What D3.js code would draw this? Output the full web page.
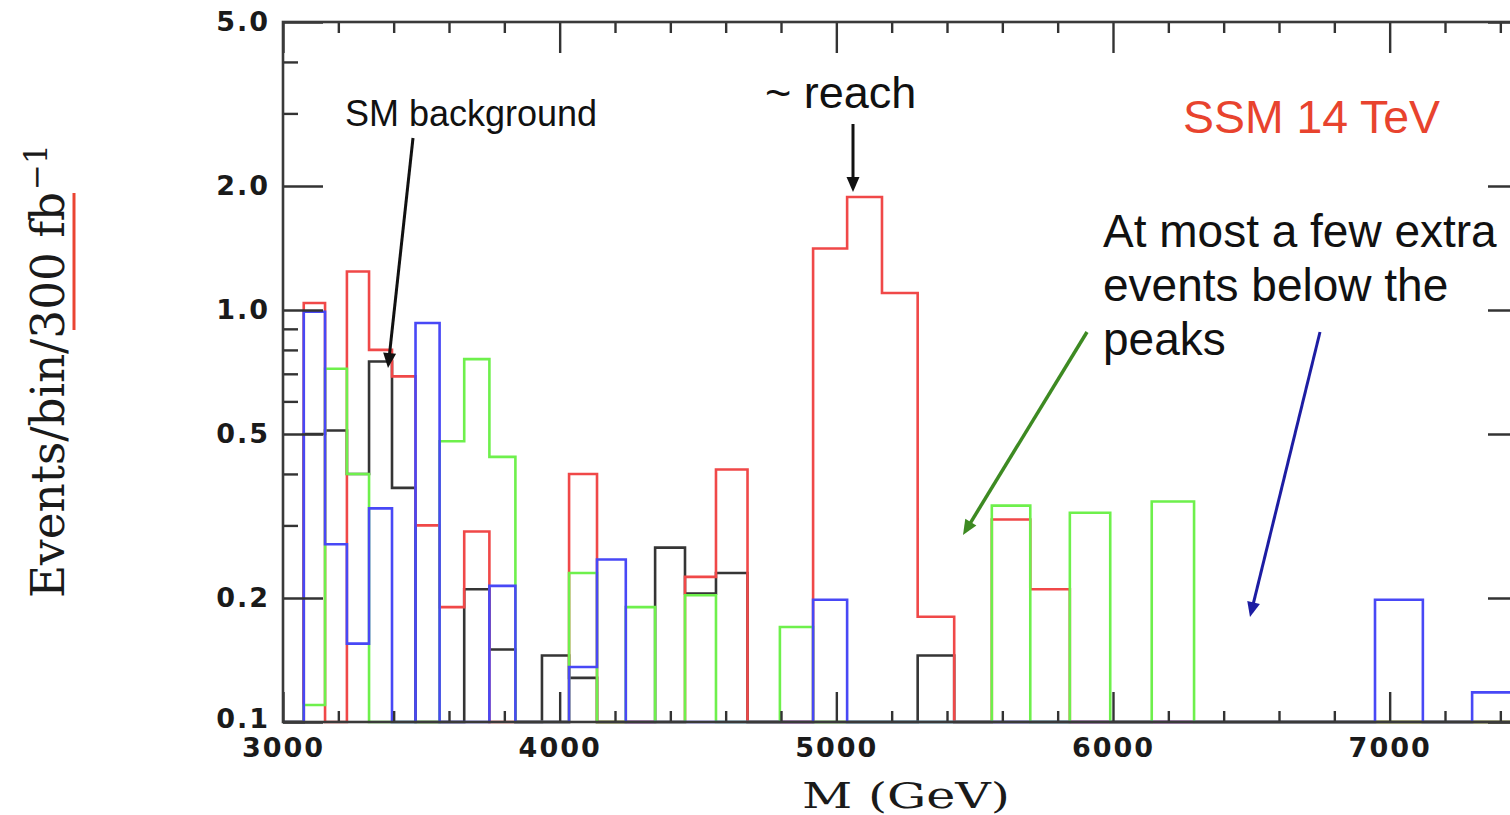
<!DOCTYPE html>
<html>
<head>
<meta charset="utf-8">
<script src="https://cdn.jsdelivr.net/npm/d3@7"></script>
<style>
  html, body { margin: 0; padding: 0; background: #ffffff; }
  svg { display: block; }
</style>
</head>
<body>
<svg id="chart" width="1510" height="815"></svg>
<script>
// Dilepton invariant-mass bins (GeV), about 2.5% wide each
const binEdges = [3000, 3075, 3152, 3231, 3311, 3394, 3479, 3566, 3655, 3746,
                  3840, 3936, 4034, 4135, 4239, 4345, 4453, 4565, 4679, 4796,
                  4916, 5039, 5165, 5294, 5426, 5562, 5701, 5844, 5990, 6140,
                  6293, 6451, 6612, 6777, 6947, 7120, 7298, 7481, 7668];

// Events per bin for 300 fb^-1 (0 = empty bin)
const smBackground = [0, 0.50, 0.51, 0.40, 0.75, 0.37, 0, 0, 0.21, 0.15,
                      0, 0.145, 0.128, 0, 0, 0.265, 0.205, 0.23, 0, 0,
                      0, 0, 0, 0.145, 0, 0, 0, 0, 0, 0,
                      0, 0, 0, 0, 0, 0, 0, 0];
const ssmRed = [0, 1.04, 0, 1.24, 0.80, 0.69, 0.30, 0.19, 0.29, 0,
                0, 0, 0.40, 0, 0, 0, 0.225, 0.41, 0, 0,
                1.41, 1.88, 1.10, 0.18, 0, 0.31, 0.21, 0, 0, 0,
                0, 0, 0, 0, 0, 0, 0, 0];
const ssmGreen = [0, 0.11, 0.72, 0.40, 0, 0, 0, 0.48, 0.76, 0.44,
                  0, 0, 0.23, 0, 0.19, 0, 0.203, 0, 0, 0.17,
                  0, 0, 0, 0, 0, 0.335, 0, 0.322, 0, 0.343,
                  0, 0, 0, 0, 0, 0, 0, 0];
const ssmBlue = [0, 0.99, 0.27, 0.155, 0.33, 0, 0.93, 0, 0, 0.214,
                 0, 0, 0.136, 0.248, 0, 0, 0, 0, 0, 0,
                 0.198, 0, 0, 0, 0, 0, 0, 0, 0, 0,
                 0, 0, 0, 0, 0.198, 0, 0.118, 0];

// Axis ticks
const xMajorTicks = [3000, 4000, 5000, 6000, 7000];
const xTickLabels = ["3000", "4000", "5000", "6000", "7000"];
const yMajorTicks = [0.1, 0.2, 0.5, 1, 2, 5];
const yTickLabels = ["0.1", "0.2", "0.5", "1.0", "2.0", "5.0"];
const yMinorTicks = [0.3, 0.4, 0.6, 0.7, 0.8, 0.9, 3, 4];

const series = [
  { name: "SM background", values: smBackground, color: "#353535" },
  { name: "SSM red",       values: ssmRed,       color: "#f04848" },
  { name: "SSM green",     values: ssmGreen,     color: "#6ef04c" },
  { name: "SSM blue",      values: ssmBlue,      color: "#4848f6" }
];

const svg = d3.select("#chart");
const plotL = 283, plotR = 1528, plotT = 22, plotB = 722;

const x = d3.scaleLinear().domain([3000, 7500]).range([plotL, plotR]);
const y = d3.scaleLog().domain([0.1, 5]).range([plotB, plotT]);

svg.append("rect").attr("width", 1510).attr("height", 815).attr("fill", "#fff");

svg.append("defs").append("clipPath").attr("id", "plotArea")
  .append("rect").attr("x", plotL).attr("y", plotT - 2)
  .attr("width", plotR - plotL).attr("height", plotB - plotT + 4);

// Histogram outlines (empty bins sit on the lower edge of the plot)
const floorVal = y.domain()[0];
const line = d3.line().x(d => x(d[0])).y(d => y(d[1]));
function stepPoints(vals) {
  const pts = [[binEdges[0], floorVal]];
  vals.forEach((v, i) => {
    const h = v > 0 ? v : floorVal;
    pts.push([binEdges[i], h], [binEdges[i + 1], h]);
  });
  pts.push([binEdges[vals.length], floorVal]);
  return pts;
}

svg.append("g").attr("clip-path", "url(#plotArea)")
  .selectAll("path").data(series).join("path")
  .attr("d", d => line(stepPoints(d.values)))
  .attr("fill", "none")
  .attr("stroke", d => d.color)
  .attr("stroke-width", 2.6)
  .attr("stroke-linejoin", "miter");

// Axes with inward ticks on all four sides
const tickColor = "#333";
function styleAxis(g) {
  g.select(".domain").remove();
  g.selectAll(".tick line").attr("stroke", tickColor).attr("stroke-width", 2.4);
  g.selectAll(".tick text")
    .attr("fill", "#1a1a1a")
    .style("font-family", "'DejaVu Sans', sans-serif")
    .style("font-weight", "bold")
    .style("font-size", "27px")
    .style("letter-spacing", "2px");
}

const xMinor = d3.range(3200, 7500, 200).filter(v => v % 1000 !== 0);

svg.append("g").attr("transform", `translate(0,${plotB})`)
  .call(d3.axisBottom(x).tickValues(xMajorTicks).tickSize(-30).tickPadding(16)
    .tickFormat((d, i) => xTickLabels[i]))
  .call(styleAxis);
svg.append("g").attr("transform", `translate(0,${plotB})`)
  .call(d3.axisBottom(x).tickValues(xMinor).tickSize(-11).tickFormat(""))
  .call(styleAxis);
svg.append("g").attr("transform", `translate(0,${plotT})`)
  .call(d3.axisTop(x).tickValues(xMajorTicks).tickSize(-31).tickFormat(""))
  .call(styleAxis);
svg.append("g").attr("transform", `translate(0,${plotT})`)
  .call(d3.axisTop(x).tickValues(xMinor).tickSize(-11).tickFormat(""))
  .call(styleAxis);

const yAxisG = svg.append("g").attr("transform", `translate(${plotL},0)`)
  .call(d3.axisLeft(y).tickValues(yMajorTicks).tickSize(-40).tickPadding(13)
    .tickFormat((d, i) => yTickLabels[i]))
  .call(styleAxis);
// lowest label sits just above the x labels in the corner
yAxisG.selectAll(".tick text").filter(d => d === yMajorTicks[0]).attr("dy", "0.2em");

svg.append("g").attr("transform", `translate(${plotL},0)`)
  .call(d3.axisLeft(y).tickValues(yMinorTicks).tickSize(-15).tickFormat(""))
  .call(styleAxis);
svg.append("g").attr("transform", `translate(${plotR},0)`)
  .call(d3.axisRight(y).tickValues(yMajorTicks).tickSize(-40).tickFormat(""))
  .call(styleAxis);
svg.append("g").attr("transform", `translate(${plotR},0)`)
  .call(d3.axisRight(y).tickValues(yMinorTicks).tickSize(-15).tickFormat(""))
  .call(styleAxis);

// Frame
svg.append("rect")
  .attr("x", plotL).attr("y", plotT)
  .attr("width", plotR - plotL).attr("height", plotB - plotT)
  .attr("fill", "none").attr("stroke", "#3a3a3a").attr("stroke-width", 2.6);

// Axis titles
svg.append("text")
  .attr("x", 802).attr("y", 808)
  .attr("textLength", 208).attr("lengthAdjust", "spacingAndGlyphs")
  .style("font-family", "'DejaVu Serif', serif").style("font-size", "35px")
  .attr("fill", "#1a1a1a")
  .text("M (GeV)");

svg.append("text")
  .attr("transform", "translate(64,598) rotate(-90)")
  .attr("textLength", 406).attr("lengthAdjust", "spacingAndGlyphs")
  .style("font-family", "'DejaVu Serif', serif").style("font-size", "46px")
  .attr("fill", "#1a1a1a")
  .text("Events/bin/300 fb");
svg.append("text")
  .attr("transform", "translate(47,190) rotate(-90)")
  .style("font-family", "'DejaVu Serif', serif").style("font-size", "31px")
  .attr("fill", "#1a1a1a")
  .text("\u22121");
svg.append("line")
  .attr("x1", 74).attr("x2", 74).attr("y1", 193).attr("y2", 330)
  .attr("stroke", "#ea4432").attr("stroke-width", 3);

// Annotations
const sans = "'Liberation Sans', Arial, sans-serif";
function label(txt, px, py, size, color, len) {
  const t = svg.append("text").attr("x", px).attr("y", py)
    .style("font-family", sans).style("font-size", size + "px")
    .attr("fill", color).text(txt);
  if (len) t.attr("textLength", len).attr("lengthAdjust", "spacingAndGlyphs");
  return t;
}
label("SM background", 345, 126, 36, "#111");
label("~ reach", 765, 108, 45, "#111");
label("SSM 14 TeV", 1183, 133, 46, "#e8432e", 257);
label("At most a few extra", 1103, 247, 46, "#111");
label("events below the", 1103, 301, 46, "#111");
label("peaks", 1103, 355, 46, "#111");

function arrow(x1, y1, x2, y2, color, w) {
  const dx = x2 - x1, dy = y2 - y1, L = Math.hypot(dx, dy);
  const ux = dx / L, uy = dy / L, hl = 15, hw = 6.5;
  svg.append("line")
    .attr("x1", x1).attr("y1", y1)
    .attr("x2", x2 - ux * hl * 0.7).attr("y2", y2 - uy * hl * 0.7)
    .attr("stroke", color).attr("stroke-width", w);
  const bx = x2 - ux * hl, by = y2 - uy * hl;
  svg.append("path")
    .attr("d", `M${x2},${y2}L${bx - uy * hw},${by + ux * hw}L${bx + uy * hw},${by - ux * hw}Z`)
    .attr("fill", color);
}
arrow(413, 138, 388, 368, "#111", 3);
arrow(853, 124, 853, 192, "#111", 3);
arrow(1087, 332, 963, 535, "#3d8a22", 3.5);
arrow(1320, 332, 1250, 617, "#1d1da3", 3);
</script>
</body>
</html>
